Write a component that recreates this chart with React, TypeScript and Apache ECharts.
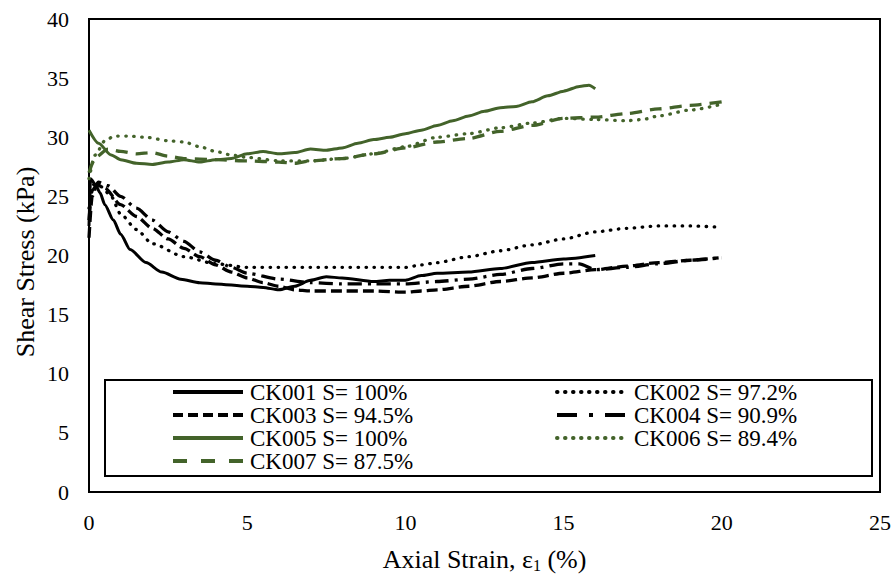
import React, { useEffect, useRef } from "react";
import * as echarts from "echarts";

const xTicks = [0, 5, 10, 15, 20, 25];
const yTicks = [0, 5, 10, 15, 20, 25, 30, 35, 40];

const seriesNames = [
  "CK001 S= 100%",
  "CK002 S= 97.2%",
  "CK003 S= 94.5%",
  "CK004 S= 90.9%",
  "CK005 S= 100%",
  "CK006 S= 89.4%",
  "CK007 S= 87.5%",
];

const ck001Strain = [0, 0.05, 0.2, 0.35, 0.5, 0.77, 1, 1.3, 1.8, 2.3, 2.9, 3.5, 4, 5, 5.5, 6, 6.5, 7, 7.5, 8, 9, 9.5, 10, 10.5, 11, 12, 13, 14, 15, 16];
const ck001Stress = [22.5, 26.5, 26.0, 25.3, 24.3, 23.0, 21.8, 20.5, 19.4, 18.6, 18.0, 17.7, 17.6, 17.4, 17.3, 17.1, 17.4, 17.9, 18.2, 18.1, 17.8, 17.9, 17.9, 18.3, 18.5, 18.6, 18.9, 19.4, 19.7, 20.0];

const ck002Strain = [0, 0.15, 0.4, 0.7, 1, 1.5, 2, 3, 4, 5, 6, 7, 8, 9, 10, 10.5, 11, 12, 13, 14, 15, 16, 17, 18, 19, 19.9];
const ck002Stress = [24.0, 26.0, 25.8, 25.0, 23.5, 22.2, 21.0, 19.9, 19.3, 19.0, 19.0, 19.0, 19.0, 19.0, 19.0, 19.2, 19.4, 19.9, 20.4, 20.9, 21.4, 22.0, 22.3, 22.5, 22.5, 22.4];

const ck003Strain = [0, 0.1, 0.25, 0.5, 1, 1.5, 2, 2.5, 3, 3.5, 4, 4.5, 5, 5.5, 6, 6.5, 7, 8, 9, 10, 10.5, 11, 12, 13, 14, 15, 16, 17, 18, 19, 19.9];
const ck003Stress = [21.5, 25.0, 26.0, 25.7, 24.3, 23.3, 22.3, 21.4, 20.6, 19.9, 19.2, 18.6, 18.1, 17.7, 17.4, 17.1, 17.0, 17.0, 17.0, 16.9, 17.0, 17.1, 17.4, 17.8, 18.1, 18.5, 18.8, 19.1, 19.4, 19.6, 19.8];

const ck004Strain = [0, 0.1, 0.3, 0.6, 1, 1.5, 2, 2.5, 3, 3.5, 4, 4.5, 5, 6, 7, 8, 9, 10, 11, 12, 13, 14, 15, 15.5, 16, 17, 18, 19, 20];
const ck004Stress = [23.0, 25.5, 26.2, 25.9, 25.0, 24.0, 23.0, 22.0, 21.2, 20.3, 19.6, 19.0, 18.5, 18.0, 17.7, 17.6, 17.6, 17.6, 17.8, 18.0, 18.4, 18.9, 19.3, 19.3, 18.8, 19.0, 19.3, 19.6, 19.8];

const ck005Strain = [0, 0.3, 0.7, 1, 1.5, 2, 2.5, 3, 3.5, 4, 4.5, 5, 5.5, 6, 6.5, 7, 7.5, 8, 8.5, 9, 9.5, 10, 10.5, 11, 11.5, 12, 12.5, 13, 13.5, 14, 14.5, 15, 15.5, 15.8, 16];
const ck005Stress = [30.6, 29.5, 28.5, 28.1, 27.8, 27.7, 27.9, 28.1, 27.9, 28.1, 28.2, 28.6, 28.8, 28.6, 28.7, 29.0, 28.9, 29.1, 29.5, 29.8, 30.0, 30.3, 30.6, 31.0, 31.4, 31.8, 32.2, 32.5, 32.6, 33.0, 33.5, 33.9, 34.3, 34.4, 34.1];

const ck006Strain = [0, 0.2, 0.5, 0.8, 1.2, 1.8, 2.5, 3, 3.5, 4, 4.5, 5, 6, 7, 8, 9, 10, 11, 12, 13, 14, 15, 16, 17, 17.5, 18, 19, 20];
const ck006Stress = [26.5, 28.5, 29.7, 30.1, 30.1, 30.0, 29.7, 29.6, 29.2, 28.8, 28.5, 28.3, 28.0, 28.0, 28.2, 28.6, 29.2, 30.0, 30.3, 30.8, 31.2, 31.6, 31.5, 31.4, 31.5, 31.8, 32.3, 32.8];

const ck007Strain = [0, 0.2, 0.6, 1, 1.5, 2, 2.5, 3, 4, 5, 6, 6.5, 7, 8, 9, 10, 11, 12, 13, 14, 15, 16, 17, 18, 19, 20];
const ck007Stress = [27.0, 28.3, 29.0, 28.8, 28.6, 28.7, 28.4, 28.2, 28.1, 28.0, 27.9, 27.8, 28.0, 28.2, 28.6, 29.1, 29.6, 29.9, 30.5, 31.0, 31.6, 31.7, 32.0, 32.4, 32.7, 33.0];

const strains = [ck001Strain, ck002Strain, ck003Strain, ck004Strain, ck005Strain, ck006Strain, ck007Strain];
const stresses = [ck001Stress, ck002Stress, ck003Stress, ck004Stress, ck005Stress, ck006Stress, ck007Stress];

const BLACK = "#000000";
const GREEN = "#43632a";
const FONT = "Liberation Serif";

const styles: any[] = [
  { color: BLACK, type: "solid", width: 3, cap: "butt" },
  { color: BLACK, type: [0.5, 7.5], width: 3.3, cap: "round" },
  { color: BLACK, type: [11, 5], width: 3.3, cap: "butt" },
  { color: BLACK, type: [14, 6, 3, 6], width: 3.3, cap: "butt" },
  { color: GREEN, type: "solid", width: 3, cap: "butt" },
  { color: GREEN, type: [0.5, 7.5], width: 3.3, cap: "round" },
  { color: GREEN, type: [12, 8], width: 3.3, cap: "butt" },
];

const legendDash: any[] = [null, [0.5, 7.5], [10, 5], [20, 12, 4, 12], null, [0.5, 7.5], [14, 14]];
const legendCap = ["butt", "round", "butt", "butt", "butt", "round", "butt"];

export default function App() {
  const ref = useRef<HTMLDivElement>(null);
  useEffect(() => {
    if (!ref.current) return;
    const chart = echarts.init(ref.current, null, { renderer: "svg" });
    const series = seriesNames.map((name, i) => ({
      name,
      type: "line",
      data: strains[i].map((x, j) => [x, stresses[i][j]]),
      symbol: "none",
      smooth: 0.25,
      smoothMonotone: "x",
      color: styles[i].color,
      lineStyle: { ...styles[i] },
      z: 3,
    }));
    const legendGraphics: any[] = [];
    seriesNames.forEach((name, i) => {
      const col = i % 2;
      const row = Math.floor(i / 2);
      const x0 = col === 0 ? 173 : 557;
      const cy = 392 + row * 23;
      const st = styles[i];
      legendGraphics.push({
        type: "line",
        shape: { x1: x0, y1: cy, x2: x0 + 70, y2: cy },
        style: {
          stroke: st.color,
          lineWidth: 4,
          lineDash: legendDash[i] || undefined,
          lineCap: legendCap[i],
        },
        silent: true,
        z: 10,
      });
      legendGraphics.push({
        type: "text",
        x: x0 + 77,
        y: cy,
        style: {
          text: name,
          fill: "#000",
          font: "23px Liberation Serif",
          verticalAlign: "middle",
          align: "left",
        },
        silent: true,
        z: 10,
      });
    });
    chart.setOption({
      animation: false,
      backgroundColor: "#ffffff",
      textStyle: { fontFamily: FONT },
      grid: {
        left: 89,
        right: 16,
        top: 19,
        bottom: 86,
        show: true,
        borderColor: "#000",
        borderWidth: 2,
        backgroundColor: "transparent",
      },
      xAxis: {
        type: "value",
        min: xTicks[0],
        max: xTicks[xTicks.length - 1],
        interval: 5,
        splitLine: { show: false },
        axisTick: { show: false },
        axisLine: { show: true, lineStyle: { color: "#000", width: 2 } },
        axisLabel: { color: "#000", fontSize: 22, fontFamily: FONT, margin: 19 },
        name: "Axial Strain, ε{sub|1} (%)",
        nameLocation: "middle",
        nameGap: 53,
        nameTextStyle: {
          color: "#000",
          fontSize: 26,
          fontFamily: FONT,
          lineHeight: 28,
          rich: {
            sub: { fontSize: 16, lineHeight: 16, verticalAlign: "bottom", color: "#000", fontFamily: FONT },
          },
        },
      },
      yAxis: {
        type: "value",
        min: yTicks[0],
        max: yTicks[yTicks.length - 1],
        interval: 5,
        splitLine: { show: false },
        axisTick: { show: false },
        axisLine: { show: true, lineStyle: { color: "#000", width: 2 } },
        axisLabel: { color: "#000", fontSize: 22, fontFamily: FONT, margin: 20 },
      },
      legend: { show: false },
      graphic: [
        {
          type: "text",
          x: 25,
          y: 262,
          rotation: Math.PI / 2,
          style: {
            text: "Shear Stress (kPa)",
            fill: "#000",
            font: "26px Liberation Serif",
            align: "center",
            verticalAlign: "middle",
          },
          silent: true,
        },
        {
          type: "rect",
          shape: { x: 105, y: 380, width: 767, height: 96 },
          style: { fill: "#fff", stroke: "#000", lineWidth: 2 },
          z: 9,
          silent: true,
        },
        ...legendGraphics,
      ],
      series,
    });
    return () => chart.dispose();
  }, []);
  return (
    <div
      ref={ref}
      style={{ position: "fixed", left: 0, top: 0, width: 896, height: 578, background: "#fff" }}
    />
  );
}
